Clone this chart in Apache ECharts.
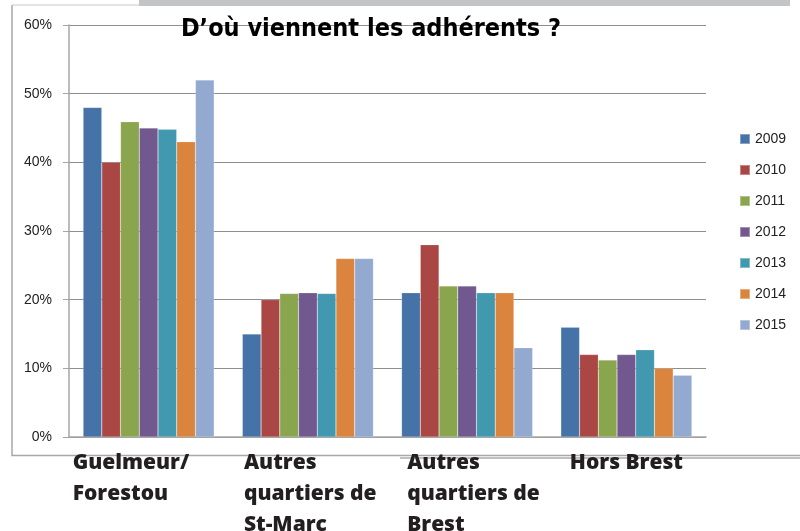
<!DOCTYPE html>
<html>
<head>
<meta charset="utf-8">
<script src="https://cdn.jsdelivr.net/npm/echarts@6/dist/echarts.min.js"></script>
<style>html,body{margin:0;padding:0;background:#fff;}#c{width:800px;height:531px;}</style>
</head>
<body>
<div id="c"></div>
<script>
const categories = ['Guelmeur/\nForestou', 'Autres\nquartiers de\nSt-Marc', 'Autres\nquartiers de\nBrest', 'Hors Brest'];
const years = ['2009', '2010', '2011', '2012', '2013', '2014', '2015'];
const v2009 = [48, 15, 21, 16];
const v2010 = [40, 20, 28, 12];
const v2011 = [45.9, 20.9, 22, 11.2];
const v2012 = [45, 21, 22, 12];
const v2013 = [44.8, 20.9, 21, 12.7];
const v2014 = [43, 26, 21, 10];
const v2015 = [52, 26, 13, 9];
const seriesValues = [v2009, v2010, v2011, v2012, v2013, v2014, v2015];
const colors = ['#4572A7', '#AA4643', '#89A54E', '#71588F', '#4198AF', '#DB843D', '#93A9CF'];
const yTicks = [0, 10, 20, 30, 40, 50, 60];

const chart = echarts.init(document.getElementById('c'), null, {renderer: 'canvas'});
const labelStyles = ['g1', 'g2', 'g3', 'g4'];
const baseLbl = {fontFamily: 'Open Sans', fontWeight: 800, fontSize: 21, color: '#231f20', lineHeight: 31};
chart.setOption({
  animation: false,
  color: colors,
  title: {
    text: "D\u2019où viennent les adhérents ?",
    left: 366, top: 12, textAlign: 'center',
    textStyle: {fontFamily: '"DejaVu Sans Condensed", "Roboto Condensed", "Liberation Sans Narrow", Roboto', fontWeight: 'bold', fontSize: 25, color: '#000'},
    z: 10
  },
  graphic: [
    {type: 'rect', shape: {x: 139, y: 0, width: 651, height: 6}, style: {fill: '#c3c4c6'}, z: -1},
    {type: 'polyline', shape: {points: [[12, 5], [12, 455.5], [800, 455.5]]}, style: {stroke: '#a8a8a8', lineWidth: 1.5, fill: null}, z: -1},
    {type: 'line', shape: {x1: 12, y1: 5, x2: 139, y2: 5}, style: {stroke: '#c8c8c8', lineWidth: 1}, z: -1},
    {type: 'line', shape: {x1: 400, y1: 458, x2: 800, y2: 458}, style: {stroke: '#c0c0c0', lineWidth: 2}, z: -1}
  ],
  legend: {
    orient: 'vertical', left: 734, top: 127,
    itemWidth: 10, itemHeight: 10, itemGap: 17,
    icon: 'rect',
    textStyle: {fontFamily: 'Liberation Sans', fontSize: 14, color: '#222'},
    data: years
  },
  grid: {left: 69, right: 94, top: 25, bottom: 94, outerBoundsMode: 'none', containLabel: false},
  xAxis: {
    type: 'category', data: categories,
    axisLine: {lineStyle: {color: '#a6a6a6', width: 1.5}},
    axisTick: {show: false},
    axisLabel: {
      interval: 0, margin: 11,
      formatter: function (val, idx) {
        return val.split('\n').map(function (l) { return '{' + labelStyles[idx] + '|' + l + '}'; }).join('\n');
      },
      rich: {
        g1: Object.assign({width: 152, align: 'left'}, baseLbl),
        g2: Object.assign({width: 128, align: 'left'}, baseLbl),
        g3: Object.assign({width: 120, align: 'left'}, baseLbl),
        g4: Object.assign({align: 'center'}, baseLbl)
      }
    }
  },
  yAxis: {
    type: 'value', min: 0, max: 60, interval: 10,
    axisLine: {show: true, lineStyle: {color: '#a6a6a6', width: 1.5}},
    axisTick: {show: true, length: 6, lineStyle: {color: '#a6a6a6'}},
    splitLine: {lineStyle: {color: '#8e8e8e', width: 1.2}},
    axisLabel: {
      margin: 17, fontFamily: 'Liberation Sans', fontSize: 14, color: '#222',
      formatter: function (v) { return yTicks.indexOf(v) >= 0 ? v + '%' : ''; }
    }
  },
  series: years.map(function (y, i) {
    return {
      name: y, type: 'bar', data: seriesValues[i],
      barGap: '0%', barCategoryGap: '17.7%',
      itemStyle: {color: colors[i], borderColor: 'rgba(255,255,255,0.35)', borderWidth: 0.5}
    };
  })
});
</script>
</body>
</html>
